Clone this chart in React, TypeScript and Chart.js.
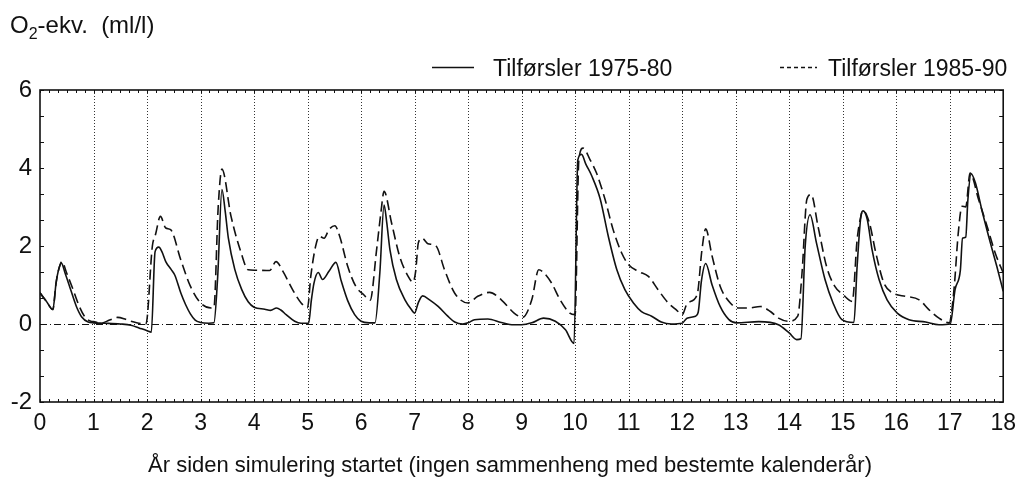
import React, { useEffect, useRef } from "react";
import { Chart, registerables } from "chart.js";

Chart.register(...registerables);

// ---- data (years since simulation start, O2-equivalents ml/l) ----
const t1975 = [
  0, 0.12, 0.24, 0.3, 0.34, 0.4, 0.47, 0.58, 0.68, 0.78, 0.9, 1.0, 1.2, 1.5, 1.7, 1.85, 2.0, 2.08,
  2.15, 2.22, 2.28, 2.35, 2.45, 2.52, 2.63, 2.72, 2.81, 2.9, 3.0, 3.15, 3.25, 3.32, 3.4, 3.46, 3.52,
  3.64, 3.77, 3.89, 4.0, 4.2, 4.31, 4.42, 4.5, 4.6, 4.76, 4.88, 5.02, 5.07, 5.12, 5.2, 5.28, 5.4,
  5.53, 5.63, 5.75, 5.88, 6.0, 6.15, 6.26, 6.35, 6.43, 6.48, 6.54, 6.66, 6.82, 6.94, 7.0, 7.07, 7.15,
  7.28, 7.44, 7.62, 7.75, 7.9, 8.0, 8.12, 8.37, 8.62, 8.85, 9.0, 9.19, 9.41, 9.63, 9.82, 9.98, 10.05,
  10.12, 10.2, 10.31, 10.47, 10.62, 10.78, 10.93, 11.09, 11.24, 11.43, 11.61, 11.8, 12.0, 12.09,
  12.25, 12.3, 12.36, 12.44, 12.56, 12.71, 12.87, 13.02, 13.43, 13.8, 14.0, 14.14, 14.22, 14.3,
  14.39, 14.51, 14.67, 14.82, 14.98, 15.21, 15.27, 15.34, 15.38, 15.46, 15.55, 15.68, 15.83, 16.02,
  16.24, 16.55, 16.8, 17.01, 17.1, 17.2, 17.24, 17.3, 17.34, 17.4, 17.48, 17.6, 17.76, 17.88, 18.0,
];
const v1975 = [
  0.8, 0.58, 0.37, 1.05, 1.35, 1.56, 1.3, 0.85, 0.45, 0.18, 0.05, 0.03, 0.02, 0.0, -0.03, -0.1, -0.17, -0.21,
  1.85, 1.97, 1.85, 1.6, 1.4, 1.25, 0.8, 0.5, 0.26, 0.1, 0.04, 0.02, 0.03, 1.2, 3.45, 2.9, 2.2,
  1.4, 0.88, 0.57, 0.43, 0.38, 0.35, 0.41, 0.36, 0.24, 0.07, 0.02, 0.02, 0.6, 1.05, 1.32, 1.14, 1.35,
  1.58, 1.1, 0.6, 0.24, 0.07, 0.03, 0.03, 1.3, 3.05, 2.6, 1.9, 1.14, 0.62, 0.37, 0.28, 0.55, 0.72,
  0.62, 0.45, 0.2, 0.05, 0.0, 0.03, 0.11, 0.13, 0.04, -0.02, -0.02, 0.03, 0.15, 0.07, -0.15, -0.5, 4.2,
  4.35, 4.1, 3.8, 3.2, 2.25, 1.39, 0.88, 0.54, 0.32, 0.2, 0.05, 0.0, 0.02, 0.15,
  0.2, 0.3, 1.1, 1.55, 1.0, 0.45, 0.12, 0.03, 0.06, -0.02, -0.23, -0.4, -0.38, 2.0,
  2.8, 2.08, 1.14, 0.54, 0.12, 0.04, 1.48, 2.76, 2.9, 2.68, 1.9, 1.14, 0.62, 0.28,
  0.11, 0.05, -0.02, 0.0, 0.88, 1.39, 2.2, 2.23, 3.19, 3.85, 3.62, 2.93, 2.08, 1.48, 0.84,
];
const t1985 = [
  0, 0.12, 0.24, 0.3, 0.34, 0.41, 0.5, 0.6, 0.72, 0.83, 0.95, 1.0, 1.14, 1.3, 1.45, 1.6, 1.7, 1.98,
  2.1, 2.16, 2.25, 2.35, 2.44, 2.63, 2.81, 3.0, 3.2, 3.25, 3.33, 3.4, 3.57, 3.76, 3.89, 4.01, 4.29,
  4.41, 4.54, 4.72, 4.88, 5.0, 5.06, 5.15, 5.22, 5.31, 5.4, 5.51, 5.6, 5.75, 5.9, 6.05, 6.17, 6.29,
  6.37, 6.43, 6.57, 6.72, 6.88, 6.97, 7.02, 7.07, 7.14, 7.25, 7.4, 7.56, 7.75, 8.0, 8.18, 8.4, 8.62,
  8.86, 9.02, 9.19, 9.32, 9.41, 9.56, 9.72, 9.9, 10.0, 10.07, 10.15, 10.28, 10.4, 10.56, 10.71, 10.87,
  11.0, 11.18, 11.37, 11.55, 11.74, 11.9, 12.0, 12.1, 12.28, 12.37, 12.44, 12.56, 12.71, 12.9, 13.06,
  13.24, 13.46, 13.65, 13.8, 13.99, 14.16, 14.24, 14.33, 14.41, 14.54, 14.7, 14.85, 15.01, 15.18,
  15.27, 15.34, 15.38, 15.5, 15.62, 15.77, 15.96, 16.18, 16.43, 16.61, 16.8, 16.99, 17.08, 17.16,
  17.23, 17.3, 17.38, 17.54, 17.7, 17.85, 18.0,
];
const v1985 = [
  0.8, 0.58, 0.37, 1.05, 1.35, 1.6, 1.3, 0.95, 0.5, 0.2, 0.07, 0.06, 0.02, 0.1, 0.17, 0.12, 0.07, 0.0,
  2.0, 2.3, 2.76, 2.46, 2.42, 1.65, 0.97, 0.54, 0.41, 0.42, 3.0, 3.97, 2.76, 1.82, 1.39, 1.38, 1.37,
  1.6, 1.35, 0.88, 0.54, 0.42, 1.22, 1.99, 2.25, 2.2, 2.42, 2.52, 2.25, 1.48, 0.97, 0.75, 0.61, 1.9,
  2.85, 3.4, 2.59, 1.74, 1.22, 1.07, 1.35, 2.08, 2.2, 2.06, 2.0, 1.39, 0.79, 0.54, 0.71, 0.81, 0.62,
  0.28, 0.17, 0.62, 1.39, 1.32, 1.05, 0.62, 0.28, 0.24, 4.21, 4.51, 4.21, 3.87, 3.19, 2.42, 1.82,
  1.52, 1.35, 1.22, 0.88, 0.54, 0.35, 0.24, 0.54, 0.75, 1.9, 2.44, 1.74, 0.97, 0.54, 0.41,
  0.41, 0.45, 0.32, 0.15, 0.07, 0.2, 1.3, 3.19, 3.32, 2.5, 1.47, 0.97, 0.75, 0.58,
  2.16, 2.76, 2.91, 2.59, 1.82, 1.05, 0.78, 0.71, 0.62, 0.37, 0.15, 0.03, 0.88, 2.33,
  3.02, 3.0, 3.87, 3.19, 2.5, 1.82, 1.31,
];
const xTickValues = [0, 1, 2, 3, 4, 5, 6, 7, 8, 9, 10, 11, 12, 13, 14, 15, 16, 17, 18];
const yTickValues = [-2, 0, 2, 4, 6];
const seriesLabels = ["Tilførsler 1975-80", "Tilførsler 1985-90"];
const unitParts = ["O", "2", "-ekv.  (ml/l)"];
const xAxisTitle = "År siden simulering startet (ingen sammenheng med bestemte kalenderår)";

const FONT = "'Liberation Sans', Arial, Helvetica, sans-serif";
const INK = "#111";

const decor = {
  id: "decor",
  beforeDatasetsDraw(chart: any) {
    const { ctx, chartArea: a, scales } = chart;
    const x = scales.x;
    const y = scales.y;
    ctx.save();
    ctx.strokeStyle = "#333";
    ctx.lineWidth = 1;
    ctx.setLineDash([1, 2]);
    for (const v of xTickValues) {
      if (v <= x.min || v >= x.max) continue;
      const px = Math.round(x.getPixelForValue(v)) + 0.5;
      ctx.beginPath();
      ctx.moveTo(px, a.top);
      ctx.lineTo(px, a.bottom);
      ctx.stroke();
    }
    ctx.strokeStyle = INK;
    ctx.setLineDash([7, 3, 1, 3]);
    const py = Math.round(y.getPixelForValue(0)) + 0.5;
    ctx.beginPath();
    ctx.moveTo(a.left, py);
    ctx.lineTo(a.right, py);
    ctx.stroke();
    ctx.restore();
  },
  afterDraw(chart: any) {
    const { ctx, chartArea: a, scales } = chart;
    const x = scales.x;
    const y = scales.y;
    ctx.save();
    ctx.setLineDash([]);
    ctx.strokeStyle = INK;
    ctx.lineWidth = 1;
    for (let v = x.min; v <= x.max + 1e-6; v += 1 / 6) {
      const px = Math.round(x.getPixelForValue(v)) + 0.5;
      ctx.beginPath();
      ctx.moveTo(px, a.top);
      ctx.lineTo(px, a.top + 3);
      ctx.moveTo(px, a.bottom);
      ctx.lineTo(px, a.bottom - 3);
      ctx.stroke();
    }
    for (let v = y.min; v <= y.max + 1e-6; v += 2 / 3) {
      const py = Math.round(y.getPixelForValue(v)) + 0.5;
      ctx.beginPath();
      ctx.moveTo(a.left, py);
      ctx.lineTo(a.left + 4, py);
      ctx.moveTo(a.right, py);
      ctx.lineTo(a.right - 4, py);
      ctx.stroke();
    }
    ctx.lineWidth = 1.6;
    ctx.strokeRect(a.left, a.top, a.right - a.left, a.bottom - a.top);

    ctx.fillStyle = INK;
    ctx.textBaseline = "alphabetic";
    ctx.textAlign = "left";
    ctx.font = `24px ${FONT}`;
    let tx = 10;
    ctx.fillText(unitParts[0], tx, 33);
    tx += ctx.measureText(unitParts[0]).width;
    ctx.font = `16px ${FONT}`;
    ctx.fillText(unitParts[1], tx, 39);
    tx += ctx.measureText(unitParts[1]).width;
    ctx.font = `24px ${FONT}`;
    ctx.fillText(unitParts[2], tx, 33);

    ctx.font = `23px ${FONT}`;
    ctx.lineWidth = 1.4;
    ctx.beginPath();
    ctx.moveTo(432, 67.5);
    ctx.lineTo(474, 67.5);
    ctx.stroke();
    ctx.fillText(seriesLabels[0], 493, 76);
    ctx.setLineDash([4, 3]);
    ctx.beginPath();
    ctx.moveTo(780, 67.5);
    ctx.lineTo(817, 67.5);
    ctx.stroke();
    ctx.setLineDash([]);
    ctx.fillText(seriesLabels[1], 828, 76);

    ctx.font = `22px ${FONT}`;
    ctx.textAlign = "center";
    ctx.fillText(xAxisTitle, 510, 472);
    ctx.restore();
  },
};

export default function App() {
  const ref = useRef<HTMLCanvasElement | null>(null);
  useEffect(() => {
    if (!ref.current) return;
    const chart = new Chart(ref.current, {
      type: "line",
      data: {
        datasets: [
          {
            label: seriesLabels[0],
            data: t1975.map((t, i) => ({ x: t, y: v1975[i] })),
            borderColor: INK,
            borderWidth: 1.6,
            pointRadius: 0,
            fill: false,
            cubicInterpolationMode: "monotone",
          },
          {
            label: seriesLabels[1],
            data: t1985.map((t, i) => ({ x: t, y: v1985[i] })),
            borderColor: INK,
            borderWidth: 1.6,
            borderDash: [10, 5],
            pointRadius: 0,
            fill: false,
            cubicInterpolationMode: "monotone",
          },
        ],
      },
      options: {
        animation: false,
        responsive: false,
        devicePixelRatio: 1,
        layout: { padding: { top: 90, right: 16, left: 0, bottom: 0 } },
        plugins: {
          legend: { display: false },
          tooltip: { enabled: false },
          title: { display: false },
        },
        scales: {
          x: {
            type: "linear",
            min: 0,
            max: 18,
            afterBuildTicks: (s: any) => {
              s.ticks = xTickValues.map((v) => ({ value: v }));
            },
            afterFit: (s: any) => {
              s.height = 77;
            },
            grid: { display: false, drawTicks: false },
            border: { display: false },
            ticks: {
              font: { family: FONT, size: 23 },
              color: INK,
              padding: 8,
              maxRotation: 0,
              autoSkip: false,
            },
          },
          y: {
            type: "linear",
            min: -2,
            max: 6,
            afterBuildTicks: (s: any) => {
              s.ticks = yTickValues.map((v) => ({ value: v }));
            },
            afterFit: (s: any) => {
              s.width = 40;
            },
            grid: { display: false, drawTicks: false },
            border: { display: false },
            ticks: {
              font: { family: FONT, size: 24 },
              color: INK,
              padding: 8,
            },
          },
        },
      },
      plugins: [decor],
    } as any);
    return () => chart.destroy();
  }, []);
  return (
    <div style={{ position: "absolute", left: 0, top: 0, width: 1024, height: 479, background: "#fff" }}>
      <canvas ref={ref} width={1024} height={479} style={{ display: "block" }} />
    </div>
  );
}
